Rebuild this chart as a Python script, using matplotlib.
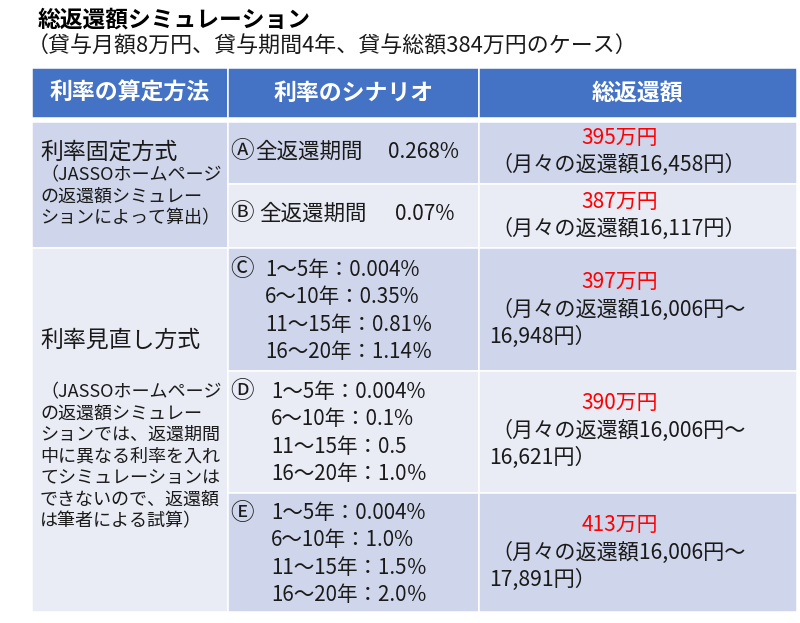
import matplotlib
matplotlib.use('Agg')
import matplotlib.pyplot as plt
from matplotlib.patches import Rectangle

plt.rcParams['font.family'] = ['Noto Sans CJK JP', 'DejaVu Sans']

# データ
title = '総返還額シミュレーション'
subtitle = '（貸与月額8万円、貸与期間4年、貸与総額384万円のケース）'
headers = ['利率の算定方法', '利率のシナリオ', '総返還額']
methods = ['利率固定方式', '利率見直し方式']
method_notes = [
    ['（JASSOホームページ', 'の返還額シミュレー', 'ションによって算出）'],
    ['（JASSOホームページ', 'の返還額シミュレー', 'ションでは、返還期間',
     '中に異なる利率を入れ', 'てシミュレーションは', 'できないので、返還額',
     'は筆者による試算）'],
]
scenario_marks = ['Ⓐ', 'Ⓑ', 'Ⓒ', 'Ⓓ', 'Ⓔ']
fixed_labels = ['全返還期間', '全返還期間']
fixed_rates = ['0.268%', '0.07%']
periods = ['1～5年', '6～10年', '11～15年', '16～20年']
variable_rates = [
    ['0.004%', '0.35%', '0.81％', '1.14％'],
    ['0.004%', '0.1%', '0.5', '1.0％'],
    ['0.004%', '1.0%', '1.5％', '2.0％'],
]
totals = [395, 387, 397, 390, 413]  # 万円
monthly_min = ['16,458', '16,117', '16,006', '16,006', '16,006']
monthly_max = [None, None, '16,948', '16,621', '17,891']

# 色
header_color = '#4472C4'
dark = '#CFD5EA'
light = '#E9EBF5'
txt = '#1a1a1a'

# レイアウト (ピクセル)
col_x = [31.5, 228, 479, 796.5]
header_y = (67.5, 118)
row_y = [121.5, 184, 248, 370.5, 493, 611.5]
row_colors = [dark, light, dark, light, dark]
method_rows = [(0, 2), (2, 5)]
method_colors = [dark, light]

fig = plt.figure(figsize=(8, 6.23), dpi=100)
ax = fig.add_axes([0, 0, 1, 1])
ax.set_xlim(0, 800)
ax.set_ylim(623, 0)
ax.axis('off')

def cell(x0, x1, y0, y1, color):
    ax.add_patch(Rectangle((x0, y0), x1 - x0, y1 - y0, facecolor=color,
                           edgecolor='white', linewidth=1.1))

# タイトル
ax.text(38, 20, title, fontsize=16.4, fontweight='bold', va='center', ha='left', color='black')
ax.text(27, 47, subtitle, fontsize=15.8, va='center', ha='left', color=txt)

# ヘッダー
for i, h in enumerate(headers):
    cell(col_x[i], col_x[i + 1], header_y[0], header_y[1], header_color)
    ax.text((col_x[i] + col_x[i + 1]) / 2, 93, h, color='white', fontsize=16.5,
            fontweight='bold', ha='center', va='center')
ax.plot([col_x[0], col_x[-1]], [119.8, 119.8], color='white', lw=3)

# 算定方法
method_text_y = [152, 340]
note_start_y = [175, 392]
for k, (r0, r1) in enumerate(method_rows):
    cell(col_x[0], col_x[1], row_y[r0], row_y[r1], method_colors[k])
    ax.text(40, method_text_y[k], methods[k], fontsize=16.5, ha='left', va='center', color=txt)
    for j, line in enumerate(method_notes[k]):
        ax.text(40, note_start_y[k] + j * 21.5, line, fontsize=13, ha='left',
                va='center', color=txt)

# シナリオと総返還額
for r in range(5):
    cell(col_x[1], col_x[2], row_y[r], row_y[r + 1], row_colors[r])
    cell(col_x[2], col_x[3], row_y[r], row_y[r + 1], row_colors[r])

fixed_y = [152, 214]
fixed_label_x = [255, 259]
fixed_rate_x = [388, 395]
for r in range(2):
    ax.text(230, fixed_y[r], scenario_marks[r], fontsize=17,
            ha='left', va='center', color=txt)
    ax.text(fixed_label_x[r], fixed_y[r], fixed_labels[r], fontsize=15.5,
            ha='left', va='center', color=txt)
    ax.text(fixed_rate_x[r], fixed_y[r], fixed_rates[r], fontsize=15,
            ha='left', va='center', color=txt)

var_y0 = [270, 392, 513]
var_x = [265, 271, 271]
for k in range(3):
    ax.text(230, var_y0[k], scenario_marks[k + 2], fontsize=17, ha='left',
            va='center', color=txt)
    for j, p in enumerate(periods):
        ax.text(var_x[k], var_y0[k] + j * 27.3, p + '：' + variable_rates[k][j],
                fontsize=14.8, ha='left', va='center', color=txt)

total_y = [138, 202, 282, 403, 525]
for r in range(5):
    y = total_y[r]
    ax.text(620, y, f'{totals[r]}万円', color='#FF0000', fontsize=15,
            ha='center', va='center')
    if monthly_max[r] is None:
        ax.text(491, y + 27, f'（月々の返還額{monthly_min[r]}円）', fontsize=15.2,
                ha='left', va='center', color=txt)
    else:
        ax.text(491, y + 28, f'（月々の返還額{monthly_min[r]}円～', fontsize=15.2,
                ha='left', va='center', color=txt)
        ax.text(489, y + 55, f'{monthly_max[r]}円）', fontsize=15.2,
                ha='left', va='center', color=txt)

fig.savefig('out.png', dpi=100)
